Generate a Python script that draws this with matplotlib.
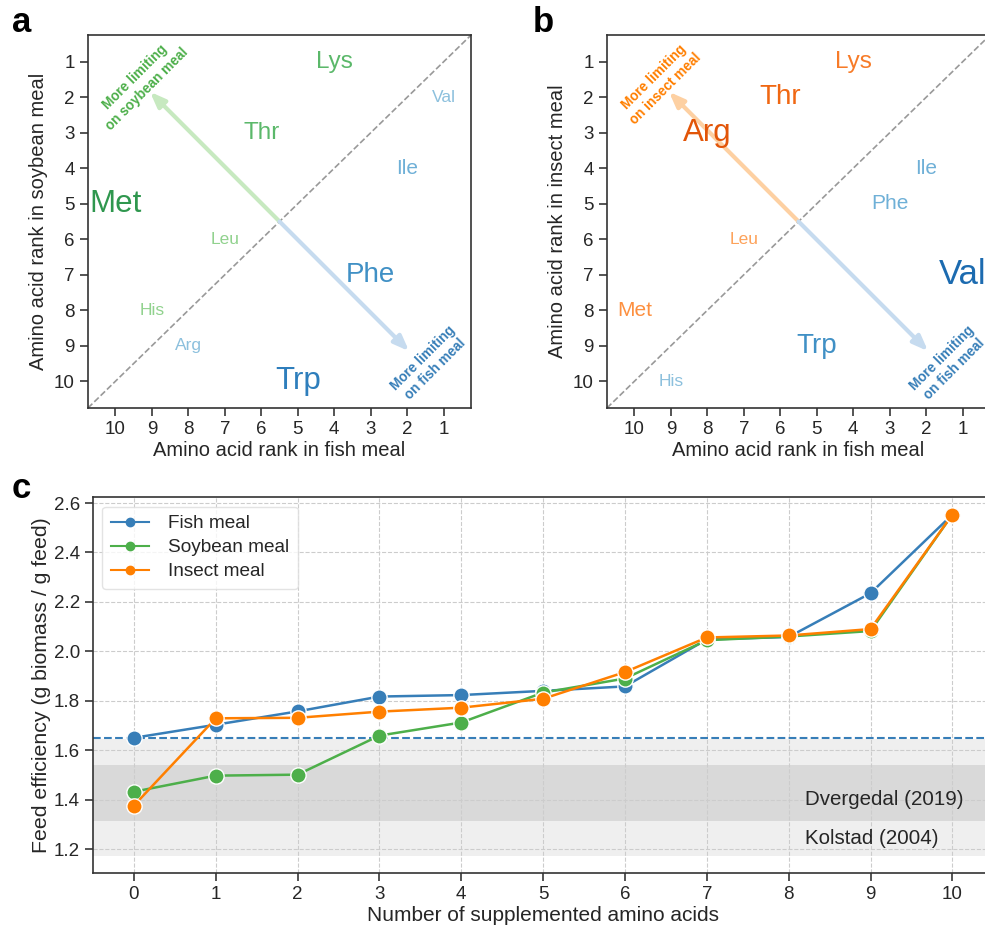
import matplotlib
matplotlib.use('Agg')
from matplotlib import pyplot as plt
from matplotlib.lines import Line2D

plt.rcParams['font.family'] = ['Liberation Sans', 'DejaVu Sans']
plt.rcParams['text.color'] = '#262626'
plt.rcParams['axes.labelcolor'] = '#262626'
plt.rcParams['xtick.color'] = '#262626'
plt.rcParams['ytick.color'] = '#262626'

# amino acid ranks (1 = most limiting)
amino_acids = ['Arg', 'His', 'Ile', 'Leu', 'Lys', 'Met', 'Phe', 'Thr', 'Trp', 'Val']
rank_fish = [8, 9, 2, 7, 4, 10, 3, 6, 5, 1]
rank_soy = [9, 8, 4, 6, 1, 5, 7, 3, 10, 2]
rank_insect = [3, 10, 4, 6, 1, 8, 5, 2, 9, 7]
rank_ticks = list(range(1, 11))

# panel c: feed efficiency
n_supp = list(range(11))
fe_fish = [1.650, 1.703, 1.757, 1.817, 1.823, 1.840, 1.858, 2.048, 2.058, 2.235, 2.553]
fe_soy = [1.432, 1.497, 1.501, 1.659, 1.712, 1.833, 1.890, 2.045, 2.060, 2.082, 2.553]
fe_insect = [1.376, 1.729, 1.731, 1.756, 1.772, 1.808, 1.916, 2.056, 2.064, 2.090, 2.553]
fe_baseline = 1.65
dvergedal_range = (1.315, 1.54)
kolstad_range = (1.17, 1.645)

c_fish = '#377eb8'
c_soy = '#4daf4a'
c_insect = '#ff7f00'

fig = plt.figure(figsize=(9.85, 9.26), dpi=100)


def rank_panel(ax, other_rank, pos_cmap, arrow_col, label_col, other_name, ylabel):
    ax.plot([10.75, 0.25], [10.75, 0.25], linestyle='--', color='#999999', lw=1.2, zorder=1)
    ax.annotate('', xy=(9.05, 1.85), xytext=(5.5, 5.5),
                arrowprops=dict(arrowstyle='-|>,head_width=0.35,head_length=0.9',
                                color=arrow_col, lw=3, shrinkA=0, shrinkB=0), zorder=1)
    ax.annotate('', xy=(1.95, 9.15), xytext=(5.5, 5.5),
                arrowprops=dict(arrowstyle='-|>,head_width=0.35,head_length=0.9',
                                color='#c6dbef', lw=3, shrinkA=0, shrinkB=0), zorder=1)
    for name, rf, ro in zip(amino_acids, rank_fish, other_rank):
        d = rf - ro
        cmap = plt.get_cmap(pos_cmap if d > 0 else 'Blues')
        ax.text(rf, ro, name, ha='center', va='center', fontsize=10 + 2.5 * abs(d),
                color=cmap(0.35 + 0.07 * abs(d)), zorder=3)
    ax.text(9.3, 1.6, 'More limiting\non ' + other_name, rotation=45, ha='center',
            va='center', fontsize=9.8, fontweight='bold', color=label_col)
    ax.text(1.4, 9.5, 'More limiting\non fish meal', rotation=45, ha='center',
            va='center', fontsize=9.8, fontweight='bold', color=c_fish)
    ax.set_xlim(10.75, 0.25)
    ax.set_ylim(10.75, 0.25)
    ax.set_xticks(rank_ticks)
    ax.set_yticks(rank_ticks)
    ax.tick_params(labelsize=13.5, length=6, width=1.1, direction='out')
    ax.set_xlabel('Amino acid rank in fish meal', fontsize=14.5, labelpad=2)
    ax.set_ylabel(ylabel, fontsize=14.5, labelpad=4)
    for s in ax.spines.values():
        s.set_linewidth(1.2)
        s.set_color('#333333')


ax_a = fig.add_axes([0.0893, 0.5594, 0.389, 0.4028])
rank_panel(ax_a, rank_soy, 'Greens', '#c7e9c0', c_soy, 'soybean meal',
           'Amino acid rank in soybean meal')
ax_b = fig.add_axes([0.6162, 0.5594, 0.389, 0.4028])
rank_panel(ax_b, rank_insect, 'Oranges', '#fdd0a2', c_insect, 'insect meal',
           'Amino acid rank in insect meal')

# panel c
ax_c = fig.add_axes([0.0944, 0.0572, 0.914, 0.406])
ax_c.axhspan(*kolstad_range, color='#efefef', lw=0, zorder=0)
ax_c.axhspan(*dvergedal_range, color='#d9d9d9', lw=0, zorder=0)
ax_c.axhline(fe_baseline, color=c_fish, linestyle='--', lw=1.5, zorder=1.5)
ax_c.grid(True, linestyle='--', color='#cccccc', lw=0.8, zorder=0.5)
ax_c.set_axisbelow(True)
for y, col, lab in [(fe_fish, c_fish, 'Fish meal'), (fe_soy, c_soy, 'Soybean meal'),
                    (fe_insect, c_insect, 'Insect meal')]:
    ax_c.plot(n_supp, y, marker='o', color=col, lw=1.8, markersize=11,
              markeredgecolor='white', markeredgewidth=1, label=lab, zorder=3)
ax_c.text(8.2, 1.40, 'Dvergedal (2019)', fontsize=14.8, va='center', ha='left')
ax_c.text(8.2, 1.243, 'Kolstad (2004)', fontsize=14.8, va='center', ha='left')
handles = [Line2D([0], [0], color=c, lw=1.5, marker='o', markersize=6)
           for c in [c_fish, c_soy, c_insect]]
ax_c.legend(handles, ['Fish meal', 'Soybean meal', 'Insect meal'], loc='upper left',
            fontsize=13.7, frameon=True, edgecolor='#dddddd', handlelength=2.0,
            handletextpad=1.0, borderpad=0.45, labelspacing=0.35)
ax_c.set_xlim(-0.5, 10.5)
ax_c.set_ylim(1.103, 2.624)
ax_c.set_xticks(n_supp)
ax_c.set_yticks([1.2, 1.4, 1.6, 1.8, 2.0, 2.2, 2.4, 2.6])
ax_c.set_yticklabels(['1.2', '1.4', '1.6', '1.8', '2.0', '2.2', '2.4', '2.6'])
ax_c.tick_params(labelsize=13.5, length=6, width=1.1, direction='out')
ax_c.set_xlabel('Number of supplemented amino acids', fontsize=15, labelpad=2)
ax_c.set_ylabel('Feed efficiency (g biomass / g feed)', fontsize=15.3, labelpad=2)
for s in ax_c.spines.values():
    s.set_linewidth(1.2)
    s.set_color('#333333')

fig.text(0.012, 0.976, 'a', fontsize=25, fontweight='bold', va='center', color='black')
fig.text(0.541, 0.976, 'b', fontsize=25, fontweight='bold', va='center', color='black')
fig.text(0.012, 0.472, 'c', fontsize=25, fontweight='bold', va='center', color='black')

fig.savefig('out.png', dpi=100)
